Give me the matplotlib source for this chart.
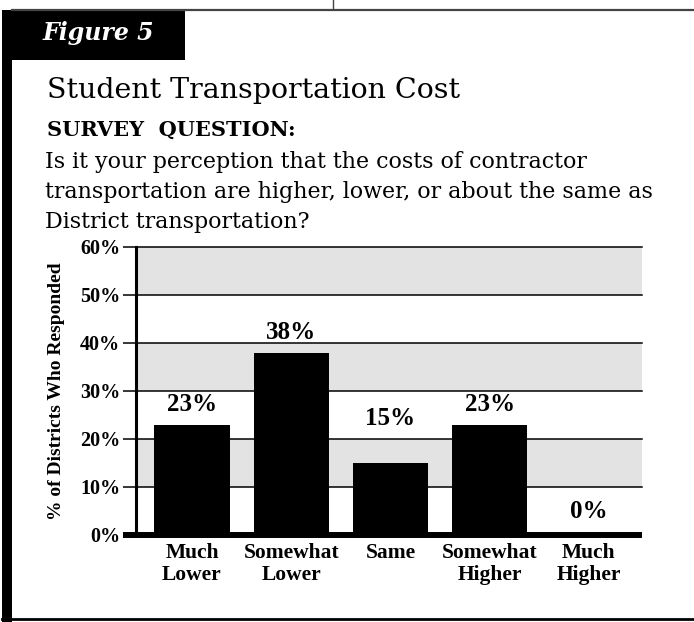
import matplotlib
matplotlib.use("Agg")
import matplotlib.pyplot as plt
from matplotlib.lines import Line2D
from matplotlib.patches import Rectangle

W, H = 694, 622

# chart data
categories = ["Much\nLower", "Somewhat\nLower", "Same", "Somewhat\nHigher", "Much\nHigher"]
percent = [23, 38, 15, 23, 0]
value_labels = ["23%", "38%", "15%", "23%", "0%"]
y_ticks = [0, 10, 20, 30, 40, 50, 60]
y_tick_labels = ["0%", "10%", "20%", "30%", "40%", "50%", "60%"]
shaded_bands = [(10, 20), (30, 40), (50, 60)]

question_lines = [
    "Is it your perception that the costs of contractor",
    "transportation are higher, lower, or about the same as",
    "District transportation?",
]

# label offsets above each bar, in points
label_pad = [6, 6.5, 24, 6, 9]

SERIF = "DejaVu Serif"
TIMES = "Liberation Serif"


def px(x, y):
    """Pixel position (from top-left) -> figure fraction."""
    return x / W, 1 - y / H


fig = plt.figure(figsize=(W / 100, H / 100), dpi=100)
fig.patch.set_facecolor("white")

# frame: header box, left bar, top and bottom rules
fig.add_artist(Rectangle(px(3, 60), 182 / W, 50 / H, transform=fig.transFigure,
                         facecolor="black", edgecolor="none"))
fig.add_artist(Rectangle(px(2, 622), 10 / W, 612 / H, transform=fig.transFigure,
                         facecolor="black", edgecolor="none"))
fig.add_artist(Line2D([12 / W, 1], [1 - 10 / H] * 2, transform=fig.transFigure,
                      color="#444444", lw=1.6))
fig.add_artist(Line2D([2 / W, 1], [1 - 619 / H] * 2, transform=fig.transFigure,
                      color="black", lw=2))
fig.add_artist(Line2D([333 / W] * 2, [1, 1 - 9 / H], transform=fig.transFigure,
                      color="#444444", lw=1))

fig.text(*px(43, 40), "Figure 5", color="white", family=SERIF, weight="bold",
         style="italic", fontsize=17, va="baseline")
fig.text(*px(47, 98), "Student Transportation Cost", family=SERIF,
         fontsize=20.5, va="baseline")
fig.text(*px(47, 136), "SURVEY  QUESTION:", family=SERIF, weight="bold",
         fontsize=15, va="baseline")
for i, line in enumerate(question_lines):
    fig.text(*px(45, 168 + 30 * i), line, family=SERIF, fontsize=15.9, va="baseline")

# chart
ax = fig.add_axes([136 / W, 1 - 535 / H, (642 - 136) / W, (535 - 247) / H])
ax.set_facecolor("white")
x = list(range(len(categories)))

# alternating shaded bands (only 10-20, 30-40, 50-60)
band_trans = ax.get_yaxis_transform()
for lo, hi in shaded_bands:
    ax.fill_between([0, 1], [lo, lo], [hi, hi], transform=band_trans,
                    facecolor="#e3e3e3", edgecolor="none", zorder=0)
for t in y_ticks[1:]:
    ax.axhline(t, color="black", lw=1.1, zorder=1, clip_on=False)

ax.bar(x, percent, width=0.76, color="black", zorder=3)

for i, (v, lbl) in enumerate(zip(percent, value_labels)):
    ax.annotate(lbl, (i, v), xytext=(0, label_pad[i]), textcoords="offset points",
                ha="center", va="bottom", family=TIMES, weight="bold", fontsize=18)

ax.set_xlim(-0.565, 4.536)
ax.set_ylim(0, 60)

for side in ["top", "right", "bottom"]:
    ax.spines[side].set_visible(False)
ax.spines["left"].set_linewidth(2.2)
ax.spines["left"].set_zorder(5)

# thick baseline running under the y tick marks
ax.plot([-0.025, 1.0], [0, 0], transform=ax.get_yaxis_transform(), color="black",
        lw=4.3, clip_on=False, zorder=4, solid_capstyle="butt")

ax.set_yticks(y_ticks, y_tick_labels)
ax.tick_params(axis="y", length=9.4, width=1.1, pad=2, labelsize=14.5)
ax.set_xticks(x, categories)
ax.tick_params(axis="x", length=0, pad=6, labelsize=15.5)
for lab in ax.get_yticklabels():
    lab.set_fontfamily(TIMES)
    lab.set_fontweight("bold")
for lab in ax.get_xticklabels():
    lab.set_fontfamily(TIMES)
    lab.set_fontweight("bold")
    lab.set_linespacing(1.1)

ax.set_ylabel("% of Districts Who Responded", family=TIMES, weight="bold", fontsize=14)
ax.yaxis.set_label_coords(-0.14, 0.5)

fig.savefig("out.png", dpi=100)
